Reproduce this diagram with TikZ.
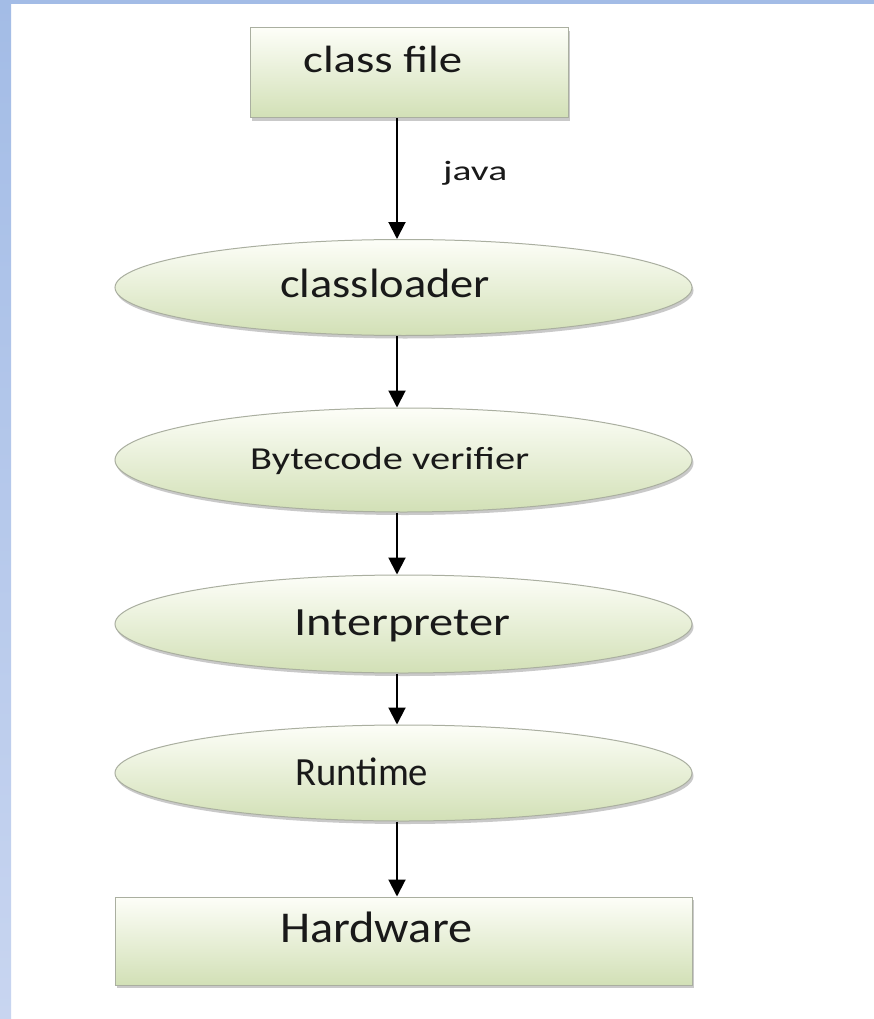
\documentclass[tikz,border=0pt]{standalone}
\usepackage{fontspec}
\setmainfont{Carlito}
\usetikzlibrary{shapes.geometric,arrows.meta,shadows}
\definecolor{boxtop}{RGB}{253,254,248}
\definecolor{boxbot}{RGB}{210,224,182}
\definecolor{boxline}{RGB}{170,175,160}
\definecolor{frameblue}{RGB}{163,188,230}
\definecolor{frameblue2}{RGB}{200,213,240}
\definecolor{txt}{RGB}{25,25,25}
\newcommand\fitlab[3]{\resizebox{#1}{\height}{\fontsize{#2}{#2}\selectfont #3}}
\tikzset{
 boxshape/.style={draw=boxline, line width=1pt, top color=boxtop, bottom color=boxbot,
   drop shadow={shadow xshift=1.5pt,shadow yshift=-3pt,opacity=0.35,fill=black!60}, inner sep=0pt},
 rectbox/.style={boxshape, rectangle},
 ellbox/.style={boxshape, ellipse},
 lab/.style={anchor=base west, text=txt, inner sep=0pt},
 flow/.style={line width=2pt, -{Triangle[width=17pt,length=17pt]}, draw=black},
}
\begin{document}
\begin{tikzpicture}[x=1pt,y=-1pt]
\useasboundingbox (0,0) rectangle (874,1019);
\fill[white] (0,0) rectangle (874,1019);
\fill[frameblue] (0,0) rectangle (874,4);
\shade[top color=frameblue, bottom color=frameblue2] (0,0) rectangle (11,1019);
% shapes
\node[rectbox, minimum width=318pt, minimum height=90pt] (cf) at (409,73) {};
\node[ellbox, minimum width=577pt, minimum height=96pt] (cl) at (403.5,287.5) {};
\node[ellbox, minimum width=577pt, minimum height=104pt] (bv) at (403.5,460) {};
\node[ellbox, minimum width=577pt, minimum height=98pt] (ip) at (403.5,624) {};
\node[ellbox, minimum width=577pt, minimum height=96pt] (rt) at (403.5,773) {};
\node[rectbox, minimum width=577pt, minimum height=88pt] (hw) at (403.5,941) {};
% labels
\node[lab] (cfT) at (303,73) {\fitlab{159pt}{38pt}{class file}};
\node[lab] (clT) at (280,297) {\fitlab{210pt}{41pt}{classloader}};
\node[lab] (bvT) at (250,469) {\fitlab{279pt}{32pt}{Bytecode verifier}};
\node[lab] (ipT) at (294,635) {\fitlab{216pt}{40pt}{Interpreter}};
\node[lab] (rtT) at (295,785) {\fitlab{133pt}{40pt}{Runtime}};
\node[lab] (hwT) at (280,942) {\fitlab{192pt}{44pt}{Hardware}};
% connectors
\coordinate (ax) at (397,0);
\coordinate (jvpos) at (443,180);
\draw[flow] (cf.south -| ax) -- (cl.north -| ax);
\node[lab] (jv) at (jvpos) {\fitlab{64pt}{28pt}{java}};
\draw[flow] (cl.south -| ax) -- (bv.north -| ax);
\draw[flow] (bv.south -| ax) -- (ip.north -| ax);
\draw[flow] (ip.south -| ax) -- (rt.north -| ax);
\draw[flow] (rt.south -| ax) -- (hw.north -| ax);
\end{tikzpicture}
\end{document}
